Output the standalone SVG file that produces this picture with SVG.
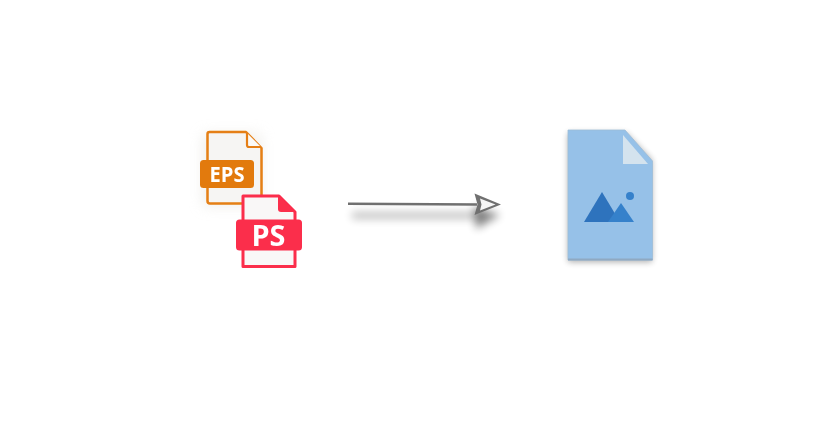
<svg xmlns="http://www.w3.org/2000/svg" width="840" height="430" viewBox="0 0 840 430">
<style>
.lbl{font-family:"Open Sans","Noto Sans",sans-serif;font-weight:700;fill:#fff;text-anchor:middle}
.eo{fill:none;stroke:#e57f16;stroke-width:2.500;stroke-linejoin:round}
.ro{stroke:#fb2d4c;stroke-width:3;stroke-linejoin:round}
</style>
<defs>
<filter id="b1" x="-50%" y="-50%" width="200%" height="200%"><feGaussianBlur stdDeviation="7"/></filter>
<filter id="b2" x="-20%" y="-400%" width="140%" height="900%"><feGaussianBlur stdDeviation="4.500"/></filter>
<filter id="b4" x="-50%" y="-50%" width="200%" height="200%"><feGaussianBlur stdDeviation="4"/></filter>
<filter id="b3" x="-30%" y="-30%" width="160%" height="160%"><feGaussianBlur stdDeviation="3"/></filter>
<filter id="s" x="-5%" y="-5%" width="110%" height="110%"><feGaussianBlur stdDeviation="0.45"/></filter>
<filter id="s2" x="-5%" y="-50%" width="110%" height="200%"><feGaussianBlur stdDeviation="0.5"/></filter>
</defs>
<rect width="840" height="430" fill="#fff"/>
<rect x="203" y="134" width="58" height="72" fill="#e6e3de" opacity=".6" filter="url(#b1)"/>
<g id="eps-icon" filter="url(#s)">
<path d="M207 133Q207 132 208 132H246L262 148V203Q262 204 261 204H208Q207 204 207 203Z" fill="#f6f5f3"/>
<path class="eo" d="M207.500 160V134Q207.500 132 209.500 132H246L261.500 148V201Q261.500 203.500 259 203.500H210Q207.500 203.500 207.500 201V188"/>
<path d="M247 133V145Q247 147 249 147H261" fill="#fbfaf8" stroke="#e57f16" stroke-width="2.200"/>
<rect x="200" y="160" width="54" height="28" rx="3.500" fill="#e27a0c"/>
<text class="lbl" x="227" y="182" font-size="21" textLength="35" lengthAdjust="spacingAndGlyphs">EPS</text>
</g>
<g id="ps-icon" filter="url(#s)">
<path class="ro" fill="#f9f7f7" d="M243 196H279L295 212V266.500H243Z"/>
<path d="M278 195L296 212H281Q278 212 278 209Z" fill="#fb2d4c"/>
<rect x="236" y="219.500" width="66" height="31" rx="3.500" fill="#fb2d4c"/>
<text class="lbl" x="268.500" y="245.500" font-size="28.500" textLength="34" lengthAdjust="spacingAndGlyphs">PS</text>
</g>
<g id="connectors">
<rect x="352" y="212" width="130" height="7" fill="#000" opacity=".24" filter="url(#b2)"/>
<path d="M474 206L500 215L476 229Z" fill="#000" opacity=".45" filter="url(#b4)"/>
<g filter="url(#s2)">
<path d="M348 203.800L477 204.500" fill="none" stroke="#707070" stroke-width="2.600"/>
<path d="M474.500 193.500L501 204.500L474.500 215L477.500 204.500Z" fill="#707070"/>
<path d="M480 198.500L495.500 204.500L480 210.500L481.500 204.500Z" fill="#f6f6f6"/>
</g>
</g>
<g id="image-file">
<path d="M568 133H626L652 160V262H568Z" fill="#000" opacity=".32" filter="url(#b3)"/>
<g filter="url(#s)">
<path d="M568 130H625L652.500 161V260H568Z" fill="#96c1e8" stroke="#9dbcd8" stroke-width=".8"/>
<path d="M568 258.500H652.500V260.500H568Z" fill="#8fa9c2"/>
<path d="M623 135L648 164H623Z" fill="#d4e3ee"/>
<path d="M584 222L602 192L620 222Z" fill="#2f73bd"/>
<path d="M608 222L621 203L634 222Z" fill="#3581cb"/>
<circle cx="630" cy="196" r="4" fill="#3581cb"/>
</g>
</g>
</svg>
